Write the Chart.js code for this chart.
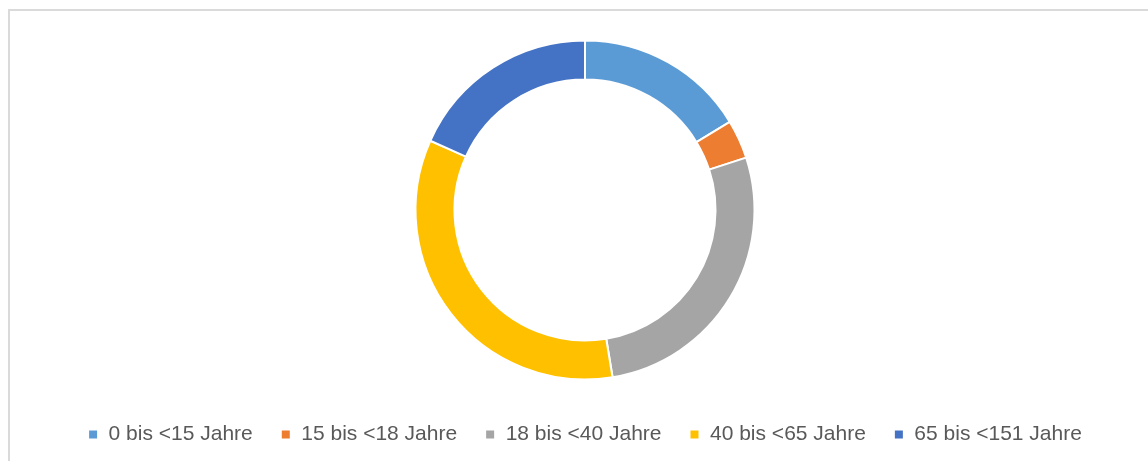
<!DOCTYPE html>
<html>
<head>
<meta charset="utf-8">
<script src="https://cdn.jsdelivr.net/npm/chart.js@4"></script>
<style>
    html, body { margin: 0; padding: 0; background: #ffffff; overflow: hidden; }
    #wrap { position: relative; width: 1148px; height: 461px; }
    #frame { position: absolute; left: 8px; top: 9px; width: 1200px; height: 500px;
             border-left: 2px solid #dadada; border-top: 2px solid #dadada; }
    #myChart { position: absolute; left: 0; top: 0; }
</style>
</head>
<body>
<div id="wrap">
    <div id="frame"></div>
    <canvas id="myChart" width="1148" height="461"></canvas>
</div>
<script>
//  Daten
const age_groups = ["0 bis <15 Jahre", "15 bis <18 Jahre", "18 bis <40 Jahre", "40 bis <65 Jahre", "65 bis <151 Jahre"];
const shares     = [16.3, 3.7, 27.4, 34.3, 18.3];
const colours    = ["#5B9BD5", "#ED7D31", "#A5A5A5", "#FFC000", "#4472C4"];

//  setup
const data = {
    labels: age_groups,
    datasets: [{
        data: shares,
        backgroundColor: colours,
        borderColor: "#ffffff",
        borderWidth: 2
    }]
};

//  config
const config = {
    type: 'doughnut',
    data: data,
    options: {
        responsive: false,
        animation: false,
        radius: 169.5,
        cutout: '77%',
        layout: {
            padding: { top: 24, left: 22, right: 0, bottom: 6 }
        },
        plugins: {
            tooltip: { enabled: false },
            legend: {
                position: 'bottom',
                labels: {
                    boxWidth: 10,
                    boxHeight: 10,
                    padding: 28,
                    color: '#595959',
                    font: { family: "'Liberation Sans', Arial, sans-serif", size: 21 }
                }
            }
        }
    }
};

//  render
let myChart = new Chart(document.getElementById('myChart'), config);
</script>
</body>
</html>
